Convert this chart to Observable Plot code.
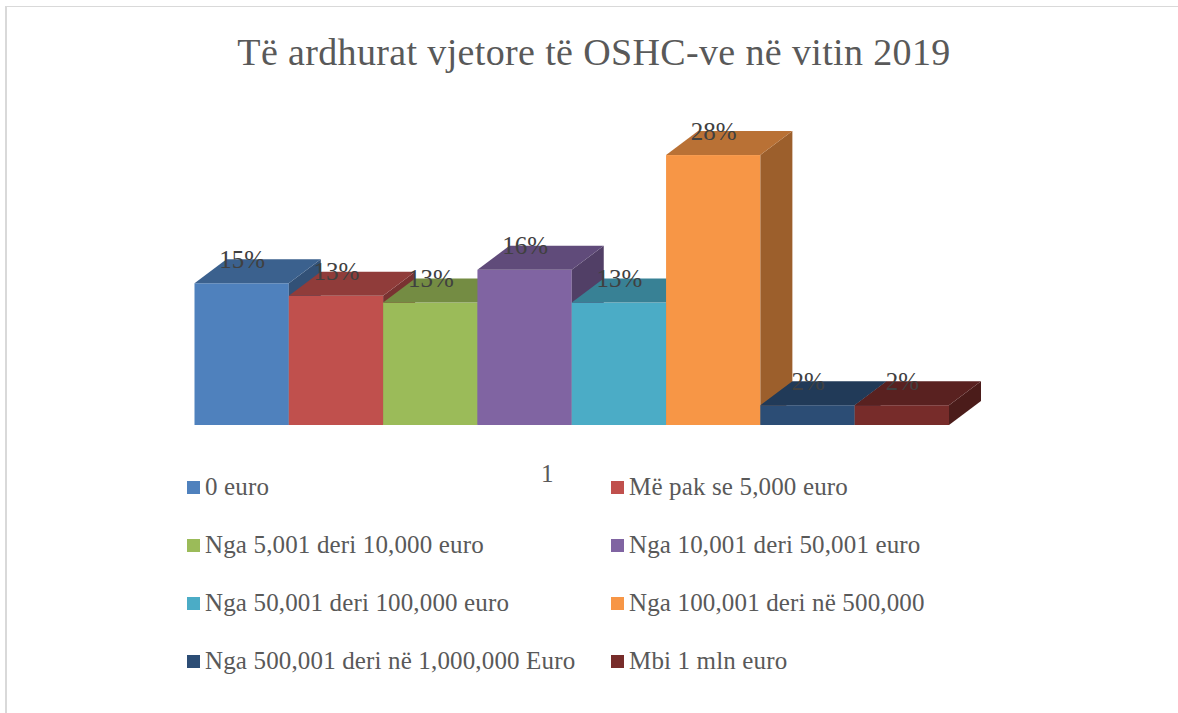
<!DOCTYPE html>
<html>
<head>
<meta charset="utf-8">
<script src="https://cdn.jsdelivr.net/npm/d3@7"></script>
<script src="https://cdn.jsdelivr.net/npm/@observablehq/plot@0.6"></script>
<style>
html,body{margin:0;padding:0;background:#fff;width:1178px;height:713px;overflow:hidden}
#frame{position:absolute;left:5px;top:6px;width:1173px;height:707px;border-left:2px solid #d9d9d9;border-top:1px solid #d9d9d9;box-sizing:border-box}
#title{position:absolute;left:0;top:26px;width:1188px;text-align:center;font:38px/52px "Liberation Serif",serif;color:#595959;letter-spacing:.36px;white-space:nowrap}
#chart{position:absolute;left:0;top:96px}
#legend{position:absolute;left:187px;top:458px;display:grid;grid-template-columns:424px 424px;grid-auto-rows:58px}
.it{display:flex;align-items:center;font:25px "Liberation Serif",serif;letter-spacing:.15px;color:#595959;white-space:nowrap}
.sw{width:13px;height:13px;margin-right:5px;flex:none}
</style>
</head>
<body>
<div id="frame"></div>
<div id="title"></div>
<div id="chart"></div>
<div id="legend"></div>
<script>
const titleText = "Të ardhurat vjetore të OSHC-ve në vitin 2019";
const series = ["0 euro","Më pak se 5,000 euro","Nga 5,001 deri 10,000 euro","Nga 10,001 deri 50,001 euro","Nga 50,001 deri 100,000 euro","Nga 100,001 deri në 500,000","Nga 500,001 deri në 1,000,000 Euro","Mbi 1 mln euro"];
const values = [14.7,13.4,12.7,16.1,12.7,28,2.05,2.05];
const labels = ["15%","13%","13%","16%","13%","28%","2%","2%"];
const colors = ["#4f81bd","#c0504d","#9bbb59","#8064a2","#4bacc6","#f79646","#2c4d75","#772c2a"];
const category = "1";

const depthX = 32, depthY = 24;
const shade = (c,k) => { const r = d3.rgb(c); return d3.rgb(r.r*k,r.g*k,r.b*k).formatHex(); };
const rows = series.map((s,i)=>({s, v:values[i], l:labels[i]}));

// Adds the top and side faces of each 3-D bar just after its front rect (left-to-right painter order).
function extrude(index, scales, vals, dims, ctx, next){
  const g = next(index, scales, vals, dims, ctx);
  const ns = "http://www.w3.org/2000/svg";
  g.querySelectorAll("rect").forEach((r,n)=>{
    const i = index[n];
    const x=+r.getAttribute("x"), y=+r.getAttribute("y"), w=+r.getAttribute("width"), h=+r.getAttribute("height");
    const fill = colors[i];
    const face = (pts,k)=>{
      const p=document.createElementNS(ns,"polygon");
      p.setAttribute("points",pts.map(q=>q.join(",")).join(" "));
      p.setAttribute("fill",shade(fill,k));
      g.insertBefore(p,r.nextSibling);
    };
    face([[x,y],[x+w,y],[x+w+depthX,y-depthY],[x+depthX,y-depthY]],0.75);
    face([[x+w,y],[x+w+depthX,y-depthY],[x+w+depthX,y+h-depthY],[x+w,y+h]],0.63);
  });
  return g;
}

const plot = Plot.plot({
  width:1178, height:390,
  marginLeft:194.5, marginRight:229, marginTop:20, marginBottom:61,
  style:{background:"transparent",fontFamily:'"Liberation Serif",serif'},
  fx:{domain:[category],padding:0,label:null,round:false},
  x:{domain:series,padding:0,axis:null,round:false},
  y:{domain:[0,32],range:[329,20.5],axis:null},
  color:{domain:series,range:colors},
  marks:[
    Plot.axisFx({anchor:"bottom",tickSize:0,tickPadding:39,dx:-25,fontSize:25,fill:"#595959",label:null}),
    Plot.barY(rows,{fx:()=>category,x:"s",y:"v",fill:"s",render:extrude}),
    Plot.text(rows,{fx:()=>category,x:"s",y:"v",text:"l",dy:-24,fontSize:25,fill:"#404040",lineAnchor:"middle",textAnchor:"middle"})
  ]
});
document.getElementById("chart").append(plot);
document.getElementById("title").textContent = titleText;
const legend = d3.select("#legend");
const item = legend.selectAll(".it").data(series).join("div").attr("class","it");
item.append("span").attr("class","sw").style("background",(d,i)=>colors[i]);
item.append("span").text(d=>d);
</script>
</body>
</html>
